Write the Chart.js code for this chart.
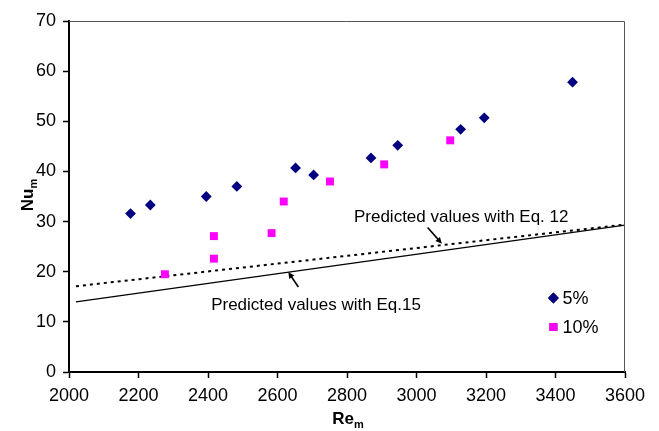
<!DOCTYPE html>
<html>
<head>
<meta charset="utf-8">
<script src="https://cdn.jsdelivr.net/npm/chart.js@4/dist/chart.umd.min.js"></script>
<style>
  html, body { margin: 0; padding: 0; background: #fff; }
  #wrap { width: 659px; height: 431px; }
</style>
</head>
<body>
<div id="wrap"><canvas id="myChart"></canvas></div>
<script>
var re5 = [2177, 2234, 2395, 2483, 2652, 2704, 2869, 2946, 3127, 3195, 3449];
var nu5 = [31.6, 33.3, 35.0, 37.0, 40.7, 39.3, 42.7, 45.2, 48.4, 50.7, 57.8];

var re10 = [2276, 2417, 2417, 2583, 2618, 2751, 2907, 3097];
var nu10 = [19.5, 27.1, 22.6, 27.7, 34.0, 38.0, 41.4, 46.2];

// predicted lines (end points)
var eq12Re = [2020, 3600];
var eq12Nu = [17.1, 29.4];
var eq15Re = [2020, 3600];
var eq15Nu = [14.0, 29.3];

var seriesNames = ['5%', '10%'];
var xTicks = [2000, 2200, 2400, 2600, 2800, 3000, 3200, 3400, 3600];
var yTicks = [0, 10, 20, 30, 40, 50, 60, 70];

function toPoints(xs, ys) {
    return xs.map(function (x, i) { return { x: x, y: ys[i] }; });
}

var FONT = '"Liberation Sans", Arial, sans-serif';

// axis titles, annotations, legend, frame
var extras = {
    id: 'extras',
    afterDraw: function (chart) {
        var c = chart.ctx, a = chart.chartArea;
        var xs = chart.scales.x, ys = chart.scales.y;
        c.save();

        // top / right frame
        c.strokeStyle = '#555';
        c.lineWidth = 1;
        c.beginPath();
        c.moveTo(a.left, a.top + 0.5);
        c.lineTo(a.right - 0.5, a.top + 0.5);
        c.lineTo(a.right - 0.5, a.bottom);
        c.stroke();

        c.fillStyle = '#000';
        c.textBaseline = 'alphabetic';

        // x title Re_m
        c.font = 'bold 17px ' + FONT;
        c.textAlign = 'left';
        var w1 = c.measureText('Re').width;
        c.font = 'bold 11px ' + FONT;
        var w2 = c.measureText('m').width;
        var cx = (a.left + a.right) / 2 + 1;
        var x0 = cx - (w1 + w2) / 2;
        c.font = 'bold 17px ' + FONT;
        c.fillText('Re', x0, 424);
        c.font = 'bold 11px ' + FONT;
        c.fillText('m', x0 + w1, 428);

        // y title Nu_m
        c.translate(33, 195);
        c.rotate(-Math.PI / 2);
        c.font = 'bold 17px ' + FONT;
        w1 = c.measureText('Nu').width;
        c.font = 'bold 11px ' + FONT;
        w2 = c.measureText('m').width;
        x0 = -(w1 + w2) / 2;
        c.font = 'bold 17px ' + FONT;
        c.fillText('Nu', x0, 0);
        c.font = 'bold 11px ' + FONT;
        c.fillText('m', x0 + w1, 4);
        c.setTransform(1, 0, 0, 1, 0, 0);

        // annotations
        c.font = '17px ' + FONT;
        c.textAlign = 'left';
        c.fillText('Predicted values with Eq. 12', xs.getPixelForValue(2820), ys.getPixelForValue(29.86));
        c.fillText('Predicted values with Eq.15', xs.getPixelForValue(2409), ys.getPixelForValue(12.3));

        function arrow(tx, ty, hx, hy) {
            var x1 = xs.getPixelForValue(tx), y1 = ys.getPixelForValue(ty);
            var x2 = xs.getPixelForValue(hx), y2 = ys.getPixelForValue(hy);
            var ang = Math.atan2(y2 - y1, x2 - x1);
            c.strokeStyle = '#000';
            c.lineWidth = 1.6;
            c.beginPath();
            c.moveTo(x1, y1);
            c.lineTo(x2 - 3 * Math.cos(ang), y2 - 3 * Math.sin(ang));
            c.stroke();
            c.beginPath();
            c.moveTo(x2, y2);
            c.lineTo(x2 - 7 * Math.cos(ang - 0.45), y2 - 7 * Math.sin(ang - 0.45));
            c.lineTo(x2 - 7 * Math.cos(ang + 0.45), y2 - 7 * Math.sin(ang + 0.45));
            c.closePath();
            c.fill();
        }
        arrow(3032, 28.8, 3073, 25.6);
        arrow(2660, 16.95, 2631, 19.94);

        // legend
        var ds = chart.data.datasets;
        var lx = xs.getPixelForValue(3394);
        var ly = [ys.getPixelForValue(14.76), ys.getPixelForValue(8.97)];
        c.font = '18px ' + FONT;
        c.textBaseline = 'middle';
        for (var i = 0; i < 2; i++) {
            Chart.helpers.drawPoint(c, {
                pointStyle: ds[i].pointStyle,
                radius: ds[i].pointRadius,
                borderWidth: 0,
                rotation: 0
            }, lx, ly[i]);
            c.fillStyle = ds[i].backgroundColor;
            c.fill();
            c.fillStyle = '#000';
            c.fillText(seriesNames[i], lx + 9, ly[i] + 1);
        }
        c.restore();
    }
};

var ctx = document.getElementById('myChart').getContext('2d');

var myChart = new Chart(ctx, {
    type: 'scatter',
    data: {
        datasets: [
            {
                label: seriesNames[0],
                data: toPoints(re5, nu5),
                pointStyle: 'rectRot',
                pointRadius: 5.4,
                backgroundColor: '#000080',
                borderColor: '#000080',
                borderWidth: 0
            },
            {
                label: seriesNames[1],
                data: toPoints(re10, nu10),
                pointStyle: 'rect',
                pointRadius: 5.6,
                backgroundColor: '#ff00ff',
                borderColor: '#ff00ff',
                borderWidth: 0
            },
            {
                label: 'Eq. 12',
                data: toPoints(eq12Re, eq12Nu),
                showLine: true,
                pointRadius: 0,
                borderColor: '#000',
                borderWidth: 2,
                borderDash: [3, 4]
            },
            {
                label: 'Eq. 15',
                data: toPoints(eq15Re, eq15Nu),
                showLine: true,
                pointRadius: 0,
                borderColor: '#000',
                borderWidth: 1.3
            }
        ]
    },
    options: {
        responsive: true,
        maintainAspectRatio: false,
        animation: false,
        layout: { padding: { top: 21, right: 34, left: 0, bottom: 0 } },
        plugins: {
            legend: { display: false },
            tooltip: { enabled: false }
        },
        scales: {
            x: {
                type: 'linear',
                min: 2000,
                max: 3600,
                afterBuildTicks: function (s) { s.ticks = xTicks.map(function (v) { return { value: v }; }); },
                afterFit: function (s) { s.height = 59; },
                grid: {
                    drawOnChartArea: false,
                    drawTicks: true,
                    tickLength: 6,
                    tickWidth: 1.5,
                    color: '#000'
                },
                border: { display: true, color: '#000', width: 2 },
                ticks: {
                    color: '#000',
                    padding: 7,
                    maxRotation: 0,
                    font: { family: FONT, size: 18 },
                    callback: function (v) { return String(v); }
                }
            },
            y: {
                type: 'linear',
                min: 0,
                max: 70,
                afterBuildTicks: function (s) { s.ticks = yTicks.map(function (v) { return { value: v }; }); },
                afterFit: function (s) { s.width = 69; },
                grid: {
                    drawOnChartArea: false,
                    drawTicks: true,
                    tickLength: 6,
                    tickWidth: 1.5,
                    color: '#000'
                },
                border: { display: true, color: '#000', width: 2 },
                ticks: {
                    color: '#000',
                    padding: 7,
                    font: { family: FONT, size: 18 },
                    callback: function (v) { return String(v); }
                }
            }
        }
    },
    plugins: [extras]
});
</script>
</body>
</html>
